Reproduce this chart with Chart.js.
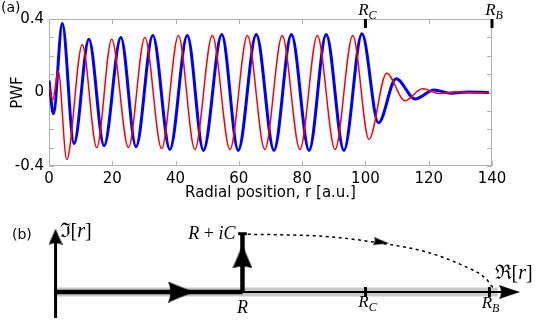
<!DOCTYPE html>
<html>
<head>
<meta charset="utf-8">
<script src="https://cdn.jsdelivr.net/npm/chart.js@4"></script>
<style>
  html, body { margin: 0; padding: 0; background: #fff; }
  #wrap { position: relative; width: 540px; height: 324px; }
  #wrap canvas { position: absolute; left: 0; top: 0; }
</style>
</head>
<body>
<div id="wrap">
  <canvas id="pwf" width="540" height="324"></canvas>
  <canvas id="contour" width="540" height="324"></canvas>
</div>
<script>
const redR   = [0, 1.2, 2.9, 5.6, 10.5, 15.1, 19.8, 25.1, 30.3, 35.6, 40.9, 46.1, 51.6, 57.2, 62.7, 68.2, 73.7, 79.3, 84.8, 90.4, 96.0, 101.1, 106.7, 112.5, 118.0, 123.5, 129.0, 134.0, 139.0];
const redPWF = [0.04, -0.04, 0.12, -0.365, 0.26, -0.30, 0.29, -0.30, 0.30, -0.305, 0.31, -0.31, 0.31, -0.31, 0.31, -0.31, 0.31, -0.31, 0.31, -0.31, 0.31, -0.255, 0.105, -0.045, 0.02, -0.006, 0.004, -0.002, 0.0];

const blueR   = [0, 1.4, 4.2, 7.9, 12.6, 17.4, 22.7, 27.5, 32.8, 38.2, 43.7, 48.8, 54.6, 59.8, 65.5, 71.1, 76.6, 82.2, 87.6, 93.2, 98.9, 104.1, 109.7, 115.7, 121.7, 127.0, 132.5, 139.0];
const bluePWF = [0.065, -0.115, 0.375, -0.278, 0.29, -0.29, 0.30, -0.295, 0.31, -0.31, 0.31, -0.315, 0.315, -0.315, 0.315, -0.315, 0.315, -0.315, 0.315, -0.315, 0.32, -0.165, 0.075, -0.035, 0.013, -0.004, 0.003, 0.0];

const xTicks = [0, 20, 40, 60, 80, 100, 120, 140];
const yLabels = [-0.4, 0, 0.4];

const RC = 100;   // R_C
const RB = 140;   // R_B

// ---- (b) complex contour ----
const R = 60.3;   // corner of the contour on the real axis
const C = 1;      // height of the vertical leg (scaled)
const dotRe = [62, 70, 88, 104.7, 119.5, 132, 138.4, 141.5];
const dotIm = [0.99, 0.985, 0.95, 0.84, 0.69, 0.44, 0.25, 0.05];

Chart.defaults.font.family = '"DejaVu Sans", sans-serif';
Chart.defaults.color = '#000';

const SERIF = '"Liberation Serif", "DejaVu Serif", serif';

function drawPieces(ctx, pieces, x, y, align) {
  let w = 0;
  pieces.forEach(p => { ctx.font = p[1]; w += ctx.measureText(p[0]).width; });
  let cx = align === 'center' ? x - w / 2 : align === 'right' ? x - w : x;
  ctx.textAlign = 'left';
  ctx.textBaseline = 'alphabetic';
  pieces.forEach(p => {
    ctx.font = p[1];
    ctx.fillText(p[0], cx, y + (p[2] || 0));
    cx += ctx.measureText(p[0]).width;
  });
}

function subLabel(ctx, main, sub, x, y) {
  drawPieces(ctx, [[main, 'italic 17px ' + SERIF], [sub, 'italic 12px ' + SERIF, 4]], x, y, 'center');
}

// frame, inward ticks and R_C / R_B markers for (a)
const pwfDecor = {
  id: 'pwfDecor',
  beforeDatasetsDraw(chart) {
    const { ctx, chartArea: a, scales: { x, y } } = chart;
    ctx.save();
    ctx.strokeStyle = '#b0b0b0';
    ctx.lineWidth = 1;
    ctx.strokeRect(a.left + 0.5, a.top + 0.5, a.right - a.left - 1, a.bottom - a.top - 1);
    ctx.beginPath();
    x.ticks.forEach(t => {
      const px = Math.round(x.getPixelForValue(t.value)) + 0.5;
      ctx.moveTo(px, a.bottom); ctx.lineTo(px, a.bottom - 5);
      ctx.moveTo(px, a.top); ctx.lineTo(px, a.top + 5);
    });
    y.ticks.forEach(t => {
      const py = Math.round(y.getPixelForValue(t.value)) + 0.5;
      ctx.moveTo(a.left, py); ctx.lineTo(a.left + 5, py);
      ctx.moveTo(a.right, py); ctx.lineTo(a.right - 5, py);
    });
    ctx.stroke();
    ctx.restore();
  },
  afterDraw(chart) {
    const { ctx, chartArea: a, scales: { x } } = chart;
    ctx.save();
    ctx.fillStyle = '#000';
    ctx.font = '14px "DejaVu Sans"';
    ctx.textBaseline = 'middle';
    ctx.fillText('(a)', 1, 8);
    ctx.strokeStyle = '#000';
    ctx.lineWidth = 3;
    [[RC, 'C'], [RB, 'B']].forEach(([v, s]) => {
      const px = x.getPixelForValue(v);
      ctx.beginPath();
      ctx.moveTo(px, a.top);
      ctx.lineTo(px, a.top + 9);
      ctx.stroke();
      subLabel(ctx, 'R', s, px + 2, 15);
    });
    ctx.restore();
  }
};

new Chart(document.getElementById('pwf'), {
  type: 'line',
  data: {
    datasets: [
      {
        label: 'red',
        data: redR.map((r, i) => ({ x: r, y: redPWF[i] })),
        borderColor: '#ff0000',
        borderWidth: 1.5,
        pointRadius: 0,
        cubicInterpolationMode: 'monotone'
      },
      {
        label: 'blue',
        data: blueR.map((r, i) => ({ x: r, y: bluePWF[i] })),
        borderColor: '#0000ff',
        borderWidth: 3,
        pointRadius: 0,
        cubicInterpolationMode: 'monotone'
      }
    ]
  },
  options: {
    responsive: false,
    animation: false,
    events: [],
    layout: { padding: { top: 19, right: 48, left: 0, bottom: 119 } },
    plugins: { legend: { display: false }, tooltip: { enabled: false } },
    scales: {
      x: {
        type: 'linear',
        min: 0,
        max: 140,
        afterBuildTicks: s => { s.ticks = xTicks.map(v => ({ value: v })); },
        afterFit: s => { s.height = 39; },
        grid: { display: false, drawTicks: false },
        border: { display: false },
        ticks: { font: { size: 15 }, padding: 4, maxRotation: 0, autoSkip: false },
        title: {
          display: true,
          text: 'Radial position, r [a.u.]',
          font: { size: 15 },
          padding: { top: 0, bottom: 3 }
        }
      },
      y: {
        min: -0.4,
        max: 0.4,
        afterFit: s => { s.width = 49; },
        grid: { display: false, drawTicks: false },
        border: { display: false },
        ticks: {
          stepSize: 0.1,
          autoSkip: false,
          padding: 5,
          font: { size: 15 },
          callback: v => {
            const r = Math.round(v * 10) / 10;
            return yLabels.includes(r) ? String(r === 0 ? 0 : r) : '';
          }
        },
        title: {
          display: true,
          text: 'PWF',
          font: { size: 15 },
          padding: { top: 9.5, bottom: 0 }
        }
      }
    }
  },
  plugins: [pwfDecor]
});

// arrow heads used as point styles (drawn pointing right)
function makeArrow(len, wid) {
  const c = document.createElement('canvas');
  c.width = len; c.height = wid;
  const g = c.getContext('2d');
  g.fillStyle = '#000';
  g.beginPath();
  g.moveTo(len, wid / 2);
  g.quadraticCurveTo(len * 0.5, wid * 0.27, 0, 0);
  g.quadraticCurveTo(len * 0.18, wid * 0.5, 0, wid);
  g.quadraticCurveTo(len * 0.5, wid * 0.73, len, wid / 2);
  g.closePath();
  g.fill();
  return c;
}

function seg(pts, width, extra) {
  return Object.assign({
    data: pts,
    showLine: true,
    borderColor: '#000',
    borderWidth: width,
    pointRadius: 0,
    borderCapStyle: 'butt',
    order: 5
  }, extra || {});
}

function arrow(xv, yv, img, rot) {
  return {
    data: [{ x: xv, y: yv }],
    showLine: false,
    pointStyle: img,
    pointRadius: 5,
    pointRotation: rot,
    order: 0
  };
}

const contourLabels = {
  id: 'contourLabels',
  afterDatasetsDraw(chart) {
    const { ctx, scales: { x, y } } = chart;
    const y0 = y.getPixelForValue(0);
    const yC = y.getPixelForValue(C);
    ctx.save();
    ctx.fillStyle = '#000';
    ctx.font = '14px "DejaVu Sans"';
    ctx.textBaseline = 'middle';
    ctx.fillText('(b)', 12, 235);

    drawPieces(ctx, [['\u2111', '20px ' + SERIF], ['[', '20px ' + SERIF], ['r', 'italic 20px ' + SERIF], [']', '20px ' + SERIF]],
      x.getPixelForValue(0) + 4, yC + 3, 'left');
    drawPieces(ctx, [['\u211C', '20px ' + SERIF], ['[', '20px ' + SERIF], ['r', 'italic 20px ' + SERIF], [']', '20px ' + SERIF]],
      x.getPixelForValue(RB) + 5, y0 - 13, 'left');
    drawPieces(ctx, [['R', 'italic 18px ' + SERIF], [' + ', '18px ' + SERIF], ['iC', 'italic 18px ' + SERIF]],
      x.getPixelForValue(R) - 7, yC + 5, 'right');
    drawPieces(ctx, [['R', 'italic 18px ' + SERIF]], x.getPixelForValue(R), y0 + 21, 'center');
    subLabel(ctx, 'R', 'C', x.getPixelForValue(RC) + 2, y0 + 15);
    subLabel(ctx, 'R', 'B', x.getPixelForValue(RB) + 1, y0 + 16);
    ctx.restore();
  }
};

new Chart(document.getElementById('contour'), {
  type: 'scatter',
  data: {
    datasets: [
      arrow(40.5, 0, makeArrow(26, 21), 0),
      arrow(R, 0.61, makeArrow(24, 20), -90),
      arrow(0, 0.95, makeArrow(16, 14), -90),
      arrow(146.5, 0, makeArrow(21, 14), 0),
      arrow(105.1, 0.855, makeArrow(16, 8), 9),
      seg([{ x: -0.6, y: 0 }, { x: 142.6, y: 0 }], 9, { borderColor: '#c8c8c8', order: 10 }),
      seg([{ x: 0, y: -0.5 }, { x: 0, y: 1.0 }], 3),
      seg([{ x: 0, y: 0 }, { x: R, y: 0 }], 4.5),
      seg([{ x: R, y: 0 }, { x: R, y: C }], 4.5),
      seg([{ x: R, y: 0 }, { x: 147, y: 0 }], 2),
      seg([{ x: R - 1.4, y: C }, { x: R + 1.4, y: C }], 3),
      seg([{ x: RC, y: -0.085 }, { x: RC, y: 0.085 }], 3),
      seg([{ x: RB, y: -0.085 }, { x: RB, y: 0.085 }], 3),
      seg(dotRe.map((r, i) => ({ x: r, y: dotIm[i] })), 1.5, { borderDash: [3, 3.5], cubicInterpolationMode: 'monotone' })
    ]
  },
  options: {
    responsive: false,
    animation: false,
    events: [],
    layout: { padding: 0 },
    plugins: { legend: { display: false }, tooltip: { enabled: false } },
    scales: {
      x: { type: 'linear', min: -15.99, max: 154.35, display: false },
      y: { type: 'linear', min: -0.446, max: 4.909, display: false }
    }
  },
  plugins: [contourLabels]
});
</script>
</body>
</html>
